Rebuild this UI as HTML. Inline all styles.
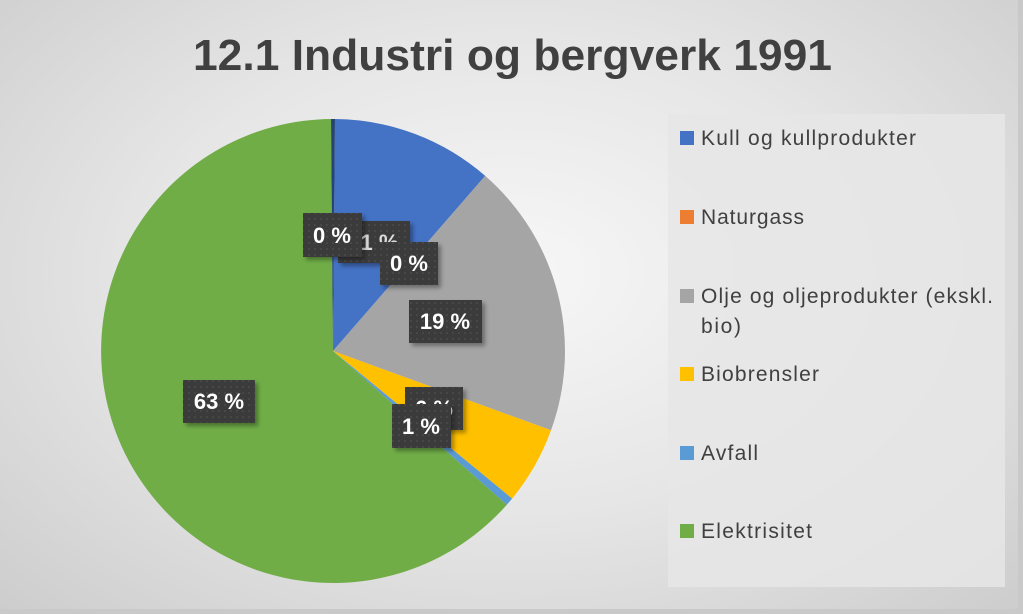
<!DOCTYPE html>
<html><head><meta charset="utf-8"><style>
html,body{margin:0;padding:0}
body{width:1023px;height:614px;overflow:hidden;background:#c9c9c9;font-family:"Liberation Sans",sans-serif}
#c{position:absolute;left:0;top:0;width:1018px;height:609px;background:radial-gradient(ellipse at 50% 45%,#f7f7f7 0%,#e6e6e6 50%,#cdcdcd 100%)}
</style></head><body>
<div id="c"></div>
<svg width="1023" height="614" style="position:absolute;left:0;top:0">
<defs>
<filter id="sh" x="-20%" y="-20%" width="150%" height="150%"><feDropShadow dx="3" dy="3" stdDeviation="2" flood-color="#000" flood-opacity="0.35"/></filter>
<pattern id="dots" width="6" height="6" patternUnits="userSpaceOnUse"><rect width="6" height="6" fill="#3b3b3b"/><circle cx="3" cy="3" r="0.8" fill="#555"/></pattern>
</defs>
<text x="193" y="70" font-size="44" font-weight="bold" fill="#404040" textLength="639" lengthAdjust="spacingAndGlyphs">12.1 Industri og bergverk 1991</text>
<rect x="668" y="114" width="337" height="473" fill="#e6e6e6" opacity="0.85"/>
<g>
<path d="M333,351 L335,119 A232,232 0 0 1 485.2,175.9 Z" fill="#4472c4"/>
<path d="M333,351 L485.2,175.9 A232,232 0 0 1 551,430.3 Z" fill="#a5a5a5"/>
<path d="M333,351 L551,430.3 A232,232 0 0 1 512.1,498.6 Z" fill="#ffc000"/>
<path d="M333,351 L512.1,498.6 A232,232 0 0 1 506.8,504.8 Z" fill="#5b9bd5"/>
<path d="M333,351 L506.8,504.8 A232,232 0 1 1 331,119 Z" fill="#70ad47"/>
<path d="M333,351 L331,119 A232,232 0 0 1 335,119 Z" fill="#264478"/>
</g>
<g font-size="22" font-weight="bold" fill="#fff" text-anchor="middle">
<g filter="url(#sh)"><rect x="338" y="221" width="72" height="42" fill="url(#dots)"/></g><text x="374" y="250" fill="#ddd">11 %</text>
<g filter="url(#sh)"><rect x="303" y="213" width="59" height="44" fill="url(#dots)"/></g><text x="332" y="243">0 %</text>
<g filter="url(#sh)"><rect x="380" y="242" width="58" height="43" fill="url(#dots)"/></g><text x="409" y="271">0 %</text>
<g filter="url(#sh)"><rect x="409" y="300" width="73" height="43" fill="url(#dots)"/></g><text x="445" y="329">19 %</text>
<g filter="url(#sh)"><rect x="405" y="387" width="58" height="43" fill="url(#dots)"/></g><text x="434" y="416">6 %</text>
<g filter="url(#sh)"><rect x="392" y="404" width="59" height="44" fill="url(#dots)"/></g><text x="421" y="434">1 %</text>
<g filter="url(#sh)"><rect x="183" y="380" width="72" height="43" fill="url(#dots)"/></g><text x="219" y="409">63 %</text>
</g>
<g font-size="21" fill="#404040" lengthAdjust="spacingAndGlyphs">
<rect x="680" y="131" width="14" height="14" fill="#4472c4"/><text x="701" y="145" textLength="215">Kull og kullprodukter</text>
<rect x="680" y="210" width="14" height="14" fill="#ed7d31"/><text x="701" y="224" textLength="103">Naturgass</text>
<rect x="680" y="289" width="14" height="14" fill="#a5a5a5"/><text x="701" y="303" textLength="292">Olje og oljeprodukter (ekskl.</text><text x="701" y="333" textLength="40">bio)</text>
<rect x="680" y="367" width="14" height="14" fill="#ffc000"/><text x="701" y="381" textLength="118">Biobrensler</text>
<rect x="680" y="446" width="14" height="14" fill="#5b9bd5"/><text x="701" y="460" textLength="57">Avfall</text>
<rect x="680" y="524" width="14" height="14" fill="#70ad47"/><text x="701" y="538" textLength="111">Elektrisitet</text>
</g>
</svg>
</body></html>
